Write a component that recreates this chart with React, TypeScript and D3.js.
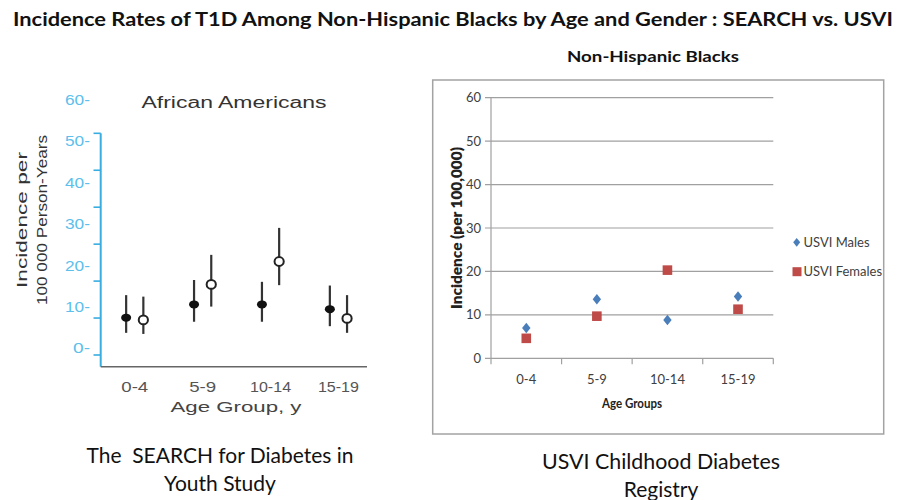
import React from "react";
import * as d3 from "d3";

// Age groups shared by both panels
const ageGroups = ["0-4", "5-9", "10-14", "15-19"];

// SEARCH for Diabetes in Youth: African American incidence with confidence limits
const searchMaleRate = [10.1, 13.7, 13.7, 12.4];
const searchMaleLow = [6.0, 9.0, 9.0, 7.8];
const searchMaleHigh = [16.2, 20.3, 19.8, 18.8];
const searchFemaleRate = [9.5, 19.1, 25.3, 9.9];
const searchFemaleLow = [5.7, 13.1, 18.9, 6.0];
const searchFemaleHigh = [15.8, 27.1, 34.4, 16.2];

// USVI Childhood Diabetes Registry: Non-Hispanic Black incidence
const usviMales = [7.0, 13.6, 8.8, 14.2];
const usviFemales = [4.6, 9.7, 20.3, 11.3];

const yTickValues = [0, 10, 20, 30, 40, 50, 60];
const leftTickLabels = ["0-", "10-", "20-", "30-", "40-", "50-", "60-"];
const rightTickLabels = ["0", "10", "20", "30", "40", "50", "60"];

const W = 903;
const H = 500;

const leftFont = "'Liberation Sans', Arial, Helvetica, sans-serif";
const calibriLike = "Lato, 'Open Sans', sans-serif";

// Left panel scales
const xLeft = d3.scaleBand<string>().domain(ageGroups).range([100.8, 372.4]).padding(0);
const yLeft = d3.scaleLinear().domain([0, 60]).range([355, 133.3]);
// the printed tick labels run on a slightly taller scale than the tick marks
const yLeftLabel = d3.scaleLinear().domain([0, 60]).range([348.3, 100]);
const pairOffset = 8.6;

// Right panel scales
const xRight = d3.scaleBand<string>().domain(ageGroups).range([491, 773.3]).padding(0);
const yRight = d3.scaleLinear().domain([0, 60]).range([358.3, 97.7]);

// Excel-style diamond: width w, height 1.25w
const diamondPath = (cx: number, cy: number, w: number) => {
  const p = d3.path();
  const hw = w / 2;
  const hh = (w * 1.25) / 2;
  p.moveTo(cx, cy - hh);
  p.lineTo(cx + hw, cy);
  p.lineTo(cx, cy + hh);
  p.lineTo(cx - hw, cy);
  p.closePath();
  return p.toString();
};

const usviBlue = "#4a7ebb";
const usviRed = "#be4b48";

export default function App() {
  const center = (g: string) => (xLeft(g) as number) + xLeft.bandwidth() / 2;
  const rCenter = (g: string) => (xRight(g) as number) + xRight.bandwidth() / 2;

  return (
    <svg width={W} height={H} style={{ display: "block", position: "absolute", left: 0, top: 0 }}>
      <rect x={0} y={0} width={W} height={H} fill="#fff" />

      {/* Slide title */}
      <text x={13} y={26} fontFamily={calibriLike} fontWeight={700} fontSize={19} fill="#111"
        textLength={880} lengthAdjust="spacingAndGlyphs">
        Incidence Rates of T1D Among Non-Hispanic Blacks by Age and Gender : SEARCH vs. USVI
      </text>

      {/* ---------- Left panel: SEARCH ---------- */}
      <text x={234} y={108.3} textAnchor="middle" fontFamily={leftFont} fontSize={16} fill="#333"
        textLength={185} lengthAdjust="spacingAndGlyphs">African Americans</text>

      {/* y axis */}
      <line x1={100.7} x2={100.7} y1={yLeft(60)} y2={366.7} stroke="#38ade0" strokeWidth={2} />
      {yTickValues.map((v) => (
        <line key={"lt" + v} x1={93.5} x2={100.7} y1={yLeft(v)} y2={yLeft(v)} stroke="#38ade0" strokeWidth={1.6} />
      ))}
      {yTickValues.map((v, i) => (
        <text key={"ll" + v} x={90} y={yLeftLabel(v) + 5} textAnchor="end" fontFamily={leftFont}
          fontSize={14} fill="#5cbfec" textLength={leftTickLabels[i].length === 2 ? 17 : 25}
          lengthAdjust="spacingAndGlyphs">{leftTickLabels[i]}</text>
      ))}
      {/* x axis */}
      <line x1={100.7} x2={367} y1={366.7} y2={366.7} stroke="#666" strokeWidth={1.6} />
      {ageGroups.map((g) => (
        <text key={"lx" + g} x={center(g)} y={391.7} textAnchor="middle" fontFamily={leftFont}
          fontSize={14} fill="#555" textLength={g.length === 3 ? 27 : 41} lengthAdjust="spacingAndGlyphs">{g}</text>
      ))}
      <text x={236} y={411.7} textAnchor="middle" fontFamily={leftFont} fontSize={14} fill="#444"
        textLength={131} lengthAdjust="spacingAndGlyphs">Age Group, y</text>

      {/* y title */}
      <g transform="translate(26.5,220) rotate(-90)">
        <text x={0} y={0} textAnchor="middle" fontFamily={leftFont} fontSize={14} fill="#333"
          textLength={136} lengthAdjust="spacingAndGlyphs">Incidence per</text>
      </g>
      <g transform="translate(46.5,220) rotate(-90)">
        <text x={0} y={0} textAnchor="middle" fontFamily={leftFont} fontSize={14} fill="#333"
          textLength={170} lengthAdjust="spacingAndGlyphs">100 000 Person-Years</text>
      </g>

      {/* confidence intervals and point estimates */}
      {ageGroups.map((g, i) => {
        const xm = center(g) - pairOffset;
        const xf = center(g) + pairOffset;
        return (
          <g key={"pt" + g}>
            <line x1={xm} x2={xm} y1={yLeft(searchMaleHigh[i])} y2={yLeft(searchMaleLow[i])} stroke="#333" strokeWidth={2.2} />
            <ellipse cx={xm} cy={yLeft(searchMaleRate[i])} rx={5} ry={4} fill="#111" />
            <line x1={xf} x2={xf} y1={yLeft(searchFemaleHigh[i])} y2={yLeft(searchFemaleLow[i])} stroke="#333" strokeWidth={2.2} />
            <ellipse cx={xf} cy={yLeft(searchFemaleRate[i])} rx={4.6} ry={4.4} fill="#fff" stroke="#222" strokeWidth={2} />
          </g>
        );
      })}

      <text x={220} y={463} textAnchor="middle" fontFamily={calibriLike} fontSize={21} fill="#111"
        xmlSpace="preserve" textLength={267} lengthAdjust="spacingAndGlyphs">The  SEARCH for Diabetes in</text>
      <text x={220} y={491} textAnchor="middle" fontFamily={calibriLike} fontSize={21} fill="#111">Youth Study</text>

      {/* ---------- Right panel: USVI ---------- */}
      <text x={653} y={62} textAnchor="middle" fontFamily={calibriLike} fontWeight={700} fontSize={16} fill="#111"
        textLength={172} lengthAdjust="spacingAndGlyphs">
        Non-Hispanic Blacks
      </text>
      <rect x={432.7} y={80} width={451} height={354} fill="none" stroke="#a3a3a3" strokeWidth={1.5} />

      {/* gridlines */}
      {yTickValues.map((v) => (
        <line key={"g" + v} x1={485} x2={773.3} y1={yRight(v)} y2={yRight(v)} stroke="#a0a0a0" strokeWidth={1.2} />
      ))}
      <line x1={491} x2={491} y1={yRight(60)} y2={yRight(0)} stroke="#a0a0a0" strokeWidth={1.2} />
      {[...ageGroups.map((g) => xRight(g) as number), 773.3].map((x, i) => (
        <line key={"xt" + i} x1={x} x2={x} y1={yRight(0)} y2={yRight(0) + 6} stroke="#a0a0a0" strokeWidth={1.2} />
      ))}
      {yTickValues.map((v, i) => (
        <text key={"rl" + v} x={481} y={yRight(v) + 4.6} textAnchor="end" fontFamily={calibriLike}
          fontSize={13} fill="#404040">{rightTickLabels[i]}</text>
      ))}
      {ageGroups.map((g) => (
        <text key={"rx" + g} x={rCenter(g)} y={384} textAnchor="middle" fontFamily={calibriLike}
          fontSize={13} fill="#404040">{g}</text>
      ))}
      <text x={632} y={408} textAnchor="middle" fontFamily={calibriLike} fontWeight={700} fontSize={13} fill="#222"
        textLength={60} lengthAdjust="spacingAndGlyphs">
        Age Groups
      </text>
      <g transform="translate(461.5,228) rotate(-90)">
        <text x={0} y={0} textAnchor="middle" fontFamily={calibriLike} fontWeight={800} fontSize={14} fill="#222"
          textLength={162} lengthAdjust="spacingAndGlyphs">
          Incidence (per 100,000)
        </text>
      </g>

      {/* markers */}
      {ageGroups.map((g, i) => (
        <rect key={"sq" + g} x={rCenter(g) - 4.8} y={yRight(usviFemales[i]) - 4.8} width={9.6} height={9.6} fill={usviRed} />
      ))}
      {ageGroups.map((g, i) => (
        <path key={"dm" + g} d={diamondPath(rCenter(g), yRight(usviMales[i]), 8.4)} fill={usviBlue} />
      ))}

      {/* legend */}
      <path d={diamondPath(796.7, 242.3, 7)} fill={usviBlue} />
      <text x={803.5} y={246.8} fontFamily={calibriLike} fontSize={13} fill="#404040">USVI Males</text>
      <rect x={792.5} y={267.2} width={9} height={9} fill={usviRed} />
      <text x={803.5} y={276.2} fontFamily={calibriLike} fontSize={13} fill="#404040">USVI Females</text>

      <text x={661} y={469} textAnchor="middle" fontFamily={calibriLike} fontSize={21} fill="#111"
        textLength={238} lengthAdjust="spacingAndGlyphs">USVI Childhood Diabetes</text>
      <text x={661} y={497} textAnchor="middle" fontFamily={calibriLike} fontSize={21} fill="#111">Registry</text>
    </svg>
  );
}
